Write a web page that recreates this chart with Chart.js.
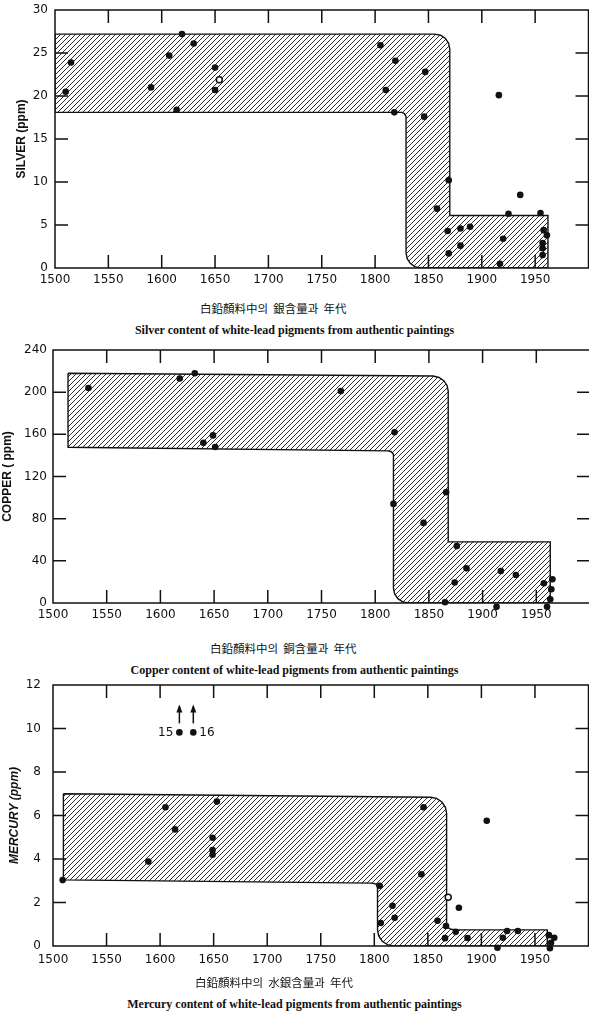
<!DOCTYPE html>
<html>
<head>
<meta charset="utf-8">
<script src="https://cdn.jsdelivr.net/npm/chart.js@4.4.1/dist/chart.umd.min.js"></script>
<style>
  body { margin: 0; background: #fff; width: 589px; height: 1018px; position: relative; overflow: hidden; }
  canvas { position: absolute; left: 0; }
  .ko { position: absolute; font-family: "Noto Sans CJK KR"; font-size: 11.5px; color: #111; white-space: pre; line-height: 1; }
  .en { position: absolute; left: 0; width: 589px; text-align: center; font-family: "Liberation Serif"; font-weight: bold; font-size: 12px; color: #111; white-space: nowrap; line-height: 1; }
</style>
</head>
<body>
<!-- canvases are a few px wider than the page so the frame's right edge lands at the page edge -->
<canvas id="silverChart" width="594" height="292" style="top:0"></canvas>
<div class="ko" style="left:200px;top:303px">白鉛顏料中의  銀含量과  年代</div>
<div class="en" style="top:324px">Silver content of white-lead pigments from authentic paintings</div>

<canvas id="copperChart" width="594" height="295" style="top:335px"></canvas>
<div class="ko" style="left:210px;top:643px">白鉛顏料中의  銅含量과  年代</div>
<div class="en" style="top:664px">Copper content of white-lead pigments from authentic paintings</div>

<canvas id="mercuryChart" width="594" height="305" style="top:670px"></canvas>
<div class="ko" style="left:195px;top:977px">白鉛顏料中의  水銀含量과  年代</div>
<div class="en" style="top:998px">Mercury content of white-lead pigments from authentic paintings</div>

<script>
// x axis: years, 1500 - 2000, a tick every 50 years
const yearTicks = [1500, 1550, 1600, 1650, 1700, 1750, 1800, 1850, 1900, 1950, 2000];

// ---- silver (ppm)
const silverYears = [1510, 1515, 1590, 1607, 1619, 1614, 1630, 1650, 1650, 1805, 1819, 1810, 1818, 1847, 1846, 1916,
  1869, 1858, 1936, 1868, 1880, 1889, 1869, 1880, 1925, 1920, 1917, 1955, 1958, 1961, 1957, 1957, 1957];
const silverValues = [20.5, 23.9, 21.0, 24.7, 27.2, 18.4, 26.1, 23.3, 20.7, 25.9, 24.1, 20.7, 18.1, 22.8, 17.6, 20.1,
  10.2, 6.9, 8.5, 4.3, 4.6, 4.8, 1.7, 2.6, 6.3, 3.4, 0.5, 6.4, 4.4, 3.8, 2.9, 2.3, 1.5];
const silverOpenYears = [1654];
const silverOpenValues = [21.9];
// outline of the hatched band
const silverBandYears = [1500, 1856, 1861.4, 1865.9, 1868.9, 1870, 1870, 1962, 1962, 1843, 1837.6, 1833.1, 1830.1, 1829,
  1829, 1827.5, 1825, 1500, 1500];
const silverBandValues = [27.2, 27.2, 27.07, 26.69, 26.12, 25.45, 6.1, 6.1, 0, 0, 0.13, 0.51, 1.08, 1.75,
  17.6, 17.95, 18.1, 18.1, 27.2];
const silverTicks = [0, 5, 10, 15, 20, 25, 30];

// ---- copper (ppm)
const copperYears = [1533, 1618, 1632, 1640, 1649, 1651, 1768, 1818, 1817, 1845, 1866, 1876, 1874, 1885, 1865, 1917,
  1931, 1913, 1957, 1965, 1964, 1963, 1960];
const copperValues = [204, 213, 218, 152, 159, 148, 201, 162, 94, 76, 105, 54, 19.5, 33, 0.7, 30.4,
  26.6, -3.5, 18.7, 22.5, 13, 3.5, -3.5];
const copperBandYears = [1514, 1854, 1859.4, 1863.9, 1866.9, 1868, 1868, 1963, 1963, 1831, 1825.6, 1821.1, 1818.1, 1817,
  1817, 1815, 1812, 1514, 1514];
const copperBandValues = [218, 215.3, 213.9, 210.9, 206.4, 201, 58, 58, 0, 0, 1.1, 4.1, 8.6, 14,
  141, 143.5, 144.3, 147.7, 218];
const copperTicks = [0, 40, 80, 120, 160, 200, 240];

// ---- mercury (ppm)
const mercuryYears = [1509, 1589, 1605, 1614, 1649, 1649, 1649, 1653, 1618, 1631, 1805, 1806, 1817, 1819, 1844, 1846,
  1859, 1867, 1866, 1879, 1876, 1887, 1905, 1915, 1920, 1924, 1934, 1963, 1968, 1965, 1964];
const mercuryValues = [3.03, 3.88, 6.38, 5.36, 4.98, 4.41, 4.2, 6.64, 9.82, 9.82, 2.77, 1.06, 1.85, 1.3, 3.3, 6.38,
  1.16, 0.92, 0.36, 1.76, 0.65, 0.37, 5.76, -0.08, 0.38, 0.69, 0.69, 0.5, 0.38, 0.15, -0.1];
const mercuryOpenYears = [1869];
const mercuryOpenValues = [2.24];
const mercuryBandYears = [1509.7, 1852.5, 1858.2, 1863.1, 1866.4, 1867.5, 1867.5, 1868.8, 1871.5, 1875, 1961.5, 1961.5,
  1818, 1812.3, 1807.4, 1804.1, 1803, 1803, 1801.5, 1798, 1509.7, 1509.7];
const mercuryBandValues = [7.0, 6.84, 6.79, 6.62, 6.38, 6.1, 1.05, 0.85, 0.77, 0.75, 0.74, 0,
  0, 0.06, 0.22, 0.46, 0.74, 2.72, 2.85, 2.89, 3.04, 7.0];
const mercuryTicks = [0, 2, 4, 6, 8, 10, 12];
// off-scale samples marked with arrows
const mercuryMarkYears = [1618, 1631];
const mercuryMarkValues = [9.82, 9.82];
const mercuryMarkLabels = ["15", "16"];

const toPoints = (xs, ys) => xs.map((x, i) => ({ x: x, y: ys[i] }));

// diagonal hatching for the band
function makeHatch() {
  const c = document.createElement("canvas");
  c.width = c.height = 5;
  const g = c.getContext("2d");
  g.strokeStyle = "#1a1a1a";
  g.lineWidth = 0.9;
  g.beginPath();
  g.moveTo(0, 5); g.lineTo(5, 0);
  g.moveTo(-1, 1); g.lineTo(1, -1);
  g.moveTo(4, 6); g.lineTo(6, 4);
  g.stroke();
  return g.createPattern(c, "repeat");
}
const hatch = makeHatch();

// frame with inward tick marks on all four sides
const boxTicks = {
  id: "boxTicks",
  afterDraw(chart) {
    const { ctx, chartArea: a, scales } = chart;
    const len = 13;
    ctx.save();
    ctx.strokeStyle = "#111";
    ctx.lineWidth = 1.5;
    ctx.strokeRect(a.left, a.top, a.right - a.left, a.bottom - a.top);
    ctx.beginPath();
    scales.x.ticks.forEach((t) => {
      const px = scales.x.getPixelForValue(t.value);
      if (px <= a.left + 2 || px >= a.right - 2) return;
      ctx.moveTo(px, a.top); ctx.lineTo(px, a.top + len);
      ctx.moveTo(px, a.bottom); ctx.lineTo(px, a.bottom - len);
    });
    scales.y.ticks.forEach((t) => {
      const py = scales.y.getPixelForValue(t.value);
      if (py <= a.top + 2 || py >= a.bottom - 2) return;
      ctx.moveTo(a.left, py); ctx.lineTo(a.left + len, py);
      ctx.moveTo(a.right, py); ctx.lineTo(a.right - len, py);
    });
    ctx.stroke();
    ctx.restore();
  },
};

// arrows + sample numbers for off-scale mercury values
const markArrows = {
  id: "markArrows",
  afterDraw(chart) {
    if (!chart.options.plugins.markArrows) return;
    const { ctx, scales } = chart;
    ctx.save();
    ctx.strokeStyle = "#111";
    ctx.fillStyle = "#111";
    ctx.lineWidth = 1.5;
    ctx.font = "12px 'DejaVu Sans'";
    ctx.textBaseline = "middle";
    mercuryMarkYears.forEach((yr, i) => {
      const px = scales.x.getPixelForValue(yr);
      const py = scales.y.getPixelForValue(mercuryMarkValues[i]);
      ctx.beginPath();
      ctx.moveTo(px, py - 9);
      ctx.lineTo(px, py - 26);
      ctx.stroke();
      ctx.beginPath();
      ctx.moveTo(px, py - 28);
      ctx.lineTo(px - 3, py - 20);
      ctx.lineTo(px + 3, py - 20);
      ctx.closePath();
      ctx.fill();
      if (i === 0) {
        ctx.textAlign = "right";
        ctx.fillText(mercuryMarkLabels[i], px - 6, py);
      } else {
        ctx.textAlign = "left";
        ctx.fillText(mercuryMarkLabels[i], px + 6, py);
      }
    });
    ctx.restore();
  },
};

function makeChart(id, s) {
  const datasets = [
    {
      data: toPoints(s.years, s.values),
      pointRadius: 3.3,
      pointBackgroundColor: "#111",
      pointBorderWidth: 0,
      clip: false,
      order: 0,
    },
    {
      data: toPoints(s.bandYears, s.bandValues),
      showLine: true,
      pointRadius: 0,
      borderColor: "#111",
      borderWidth: 1.4,
      backgroundColor: hatch,
      fill: "shape",
      order: 2,
    },
  ];
  if (s.openYears) {
    datasets.push({
      data: toPoints(s.openYears, s.openValues),
      pointRadius: 3,
      pointBackgroundColor: "#fff",
      pointBorderColor: "#111",
      pointBorderWidth: 1.5,
      order: 0,
    });
  }

  // label offsets come from an invisible tick length, so ticks.padding stays 0
  new Chart(document.getElementById(id), {
    type: "scatter",
    data: { datasets: datasets },
    options: {
      responsive: false,
      animation: false,
      layout: { padding: { top: s.padTop, right: 0, left: 0, bottom: 0 } },
      plugins: { legend: { display: false }, tooltip: { enabled: false }, markArrows: s.marks || false },
      scales: {
        x: {
          type: "linear",
          min: 1500,
          max: 2000,
          afterBuildTicks: (axis) => { axis.ticks = yearTicks.map((v) => ({ value: v })); },
          afterFit: (axis) => { axis.height = s.xHeight; },
          grid: { display: false, drawTicks: true, tickLength: s.xPad, tickColor: "rgba(0,0,0,0)" },
          border: { display: false },
          ticks: {
            padding: 0,
            color: "#111",
            font: { family: "DejaVu Sans", size: 12 },
            maxRotation: 0,
            autoSkip: false,
            callback: (v) => (v === 2000 ? "" : String(v)),
          },
        },
        y: {
          min: s.ticks[0],
          max: s.ticks[s.ticks.length - 1],
          afterBuildTicks: (axis) => { axis.ticks = s.ticks.map((v) => ({ value: v })); },
          afterFit: (axis) => { axis.width = s.left; },
          grid: { display: false, drawTicks: true, tickLength: s.yPad, tickColor: "rgba(0,0,0,0)" },
          border: { display: false },
          ticks: {
            padding: 0,
            color: "#111",
            font: { family: "DejaVu Sans", size: 12 },
            callback: (v) => String(v),
          },
          title: {
            display: true,
            text: s.title,
            color: "#111",
            font: { family: "Liberation Sans", size: 12, weight: "bold", style: s.titleStyle || "normal" },
            padding: { top: s.titlePad, bottom: 0 },
          },
        },
      },
    },
    plugins: [boxTicks, markArrows],
  });
}

makeChart("silverChart", {
  years: silverYears, values: silverValues,
  openYears: silverOpenYears, openValues: silverOpenValues,
  bandYears: silverBandYears, bandValues: silverBandValues,
  ticks: silverTicks, title: "SILVER (ppm)",
  padTop: 10, xHeight: 24, xPad: 5, left: 55, yPad: 7, titlePad: 14,
});

makeChart("copperChart", {
  years: copperYears, values: copperValues,
  bandYears: copperBandYears, bandValues: copperBandValues,
  ticks: copperTicks, title: "COPPER ( ppm)",
  padTop: 15, xHeight: 27, xPad: 5, left: 53, yPad: 6, titlePad: 0,
});

makeChart("mercuryChart", {
  years: mercuryYears, values: mercuryValues,
  openYears: mercuryOpenYears, openValues: mercuryOpenValues,
  bandYears: mercuryBandYears, bandValues: mercuryBandValues,
  ticks: mercuryTicks, title: "MERCURY (ppm)", titleStyle: "italic",
  padTop: 15, xHeight: 29, xPad: 7, left: 53, yPad: 12, titlePad: 7,
  marks: true,
});
</script>
</body>
</html>
